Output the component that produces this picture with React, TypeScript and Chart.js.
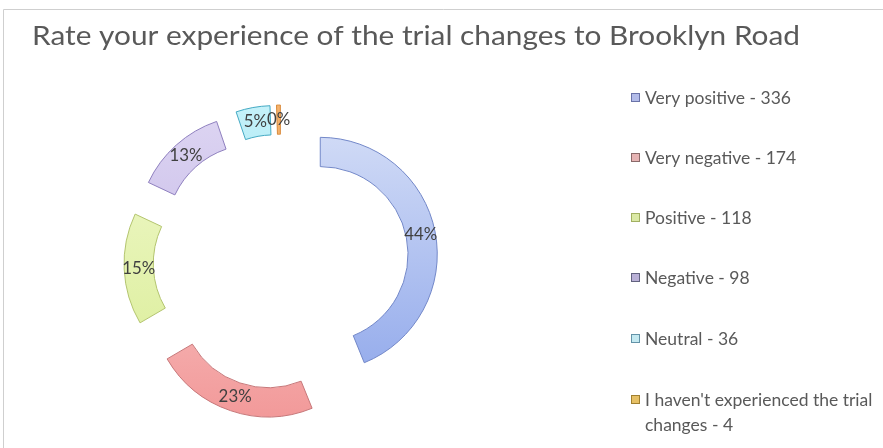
import { useEffect, useRef } from "react";
import { Chart, registerables } from "chart.js";

Chart.register(...registerables);

// ---- data ----
const chartTitle = "Rate your experience of the trial changes to Brooklyn Road";
const categories = [
  "Very positive",
  "Very negative",
  "Positive",
  "Negative",
  "Neutral",
  "I haven't experienced the trial changes",
];
const responses = [336, 174, 118, 98, 36, 4];
const percentLabels = ["44%", "23%", "15%", "13%", "5%", "0%"];

// ---- styles ----
const lightColors = ["#d6dff7", "#fcdede", "#f1f9cf", "#ddd5f2", "#c4f1f9", "#f5b36e"];
const darkColors = ["#8ba4ea", "#f29a9a", "#d8ec92", "#b9aae2", "#6fd4ea", "#ec9443"];
const borderColors = ["#7388c9", "#c7787a", "#b4c56f", "#8f80bf", "#45aac4", "#d98a3a"];
const legendFill = ["#b3bce9", "#e6b4b4", "#dbe9a6", "#b9b0d6", "#c4e9f1", "#e6c065"];
const legendBorder = ["#6a73a8", "#8a6a6a", "#a2b062", "#62627f", "#6393a8", "#a08030"];

const W = 883;
const H = 448;
const FONT = "Lato, 'Open Sans', sans-serif";
const EXPLODE = 40;
const CENTER_X = 281;
const CENTER_Y = 262;
const OUTER_R = 117;

function widthAt(text: string, size: number): number {
  const c = document.createElement("canvas").getContext("2d") as CanvasRenderingContext2D;
  c.font = `${size}px ${FONT}`;
  return c.measureText(text).width;
}

function drawScaled(
  ctx: CanvasRenderingContext2D,
  text: string,
  x: number,
  y: number,
  sx: number,
  align: "left" | "center"
) {
  ctx.save();
  ctx.translate(x, y);
  ctx.scale(sx, 1);
  ctx.textAlign = align;
  ctx.fillText(text, 0, 0);
  ctx.restore();
}

export default function App() {
  const ref = useRef<HTMLCanvasElement | null>(null);

  useEffect(() => {
    if (!ref.current) return;
    const titleSize = 26.5;
    const titleSx = 768 / widthAt(chartTitle, titleSize);
    const legendSize = 16.5;
    const legendSx = 146 / widthAt(`${categories[0]} - ${responses[0]}`, legendSize);
    const labelSize = 17;
    const labelSx = 33 / widthAt(percentLabels[0], labelSize);

    const frame = {
      id: "frame",
      beforeDraw(chart: any) {
        const ctx = chart.ctx as CanvasRenderingContext2D;
        ctx.save();
        ctx.fillStyle = "#ffffff";
        ctx.fillRect(0, 0, W, H);
        ctx.strokeStyle = "#cfcfcf";
        ctx.lineWidth = 1;
        ctx.beginPath();
        ctx.moveTo(3.5, H);
        ctx.lineTo(3.5, 9.5);
        ctx.lineTo(W, 9.5);
        ctx.stroke();
        ctx.fillStyle = "#595959";
        ctx.font = `${titleSize}px ${FONT}`;
        ctx.textBaseline = "alphabetic";
        drawScaled(ctx, chartTitle, 32, 44.5, titleSx, "left");
        ctx.restore();
      },
    };

    const explode = {
      id: "explode",
      beforeDatasetsDraw(chart: any) {
        const meta = chart.getDatasetMeta(0);
        const ca = chart.chartArea;
        const ctrl = meta.controller as any;
        const cx = (ca.left + ca.right) / 2 + (ctrl.offsetX || 0);
        const cy = (ca.top + ca.bottom) / 2 + (ctrl.offsetY || 0);
        meta.data.forEach((arc: any) => {
          const mid = (arc.startAngle + arc.endAngle) / 2;
          arc.x = cx + EXPLODE * Math.cos(mid);
          arc.y = cy + EXPLODE * Math.sin(mid);
        });
      },
    };

    const labelsAndLegend = {
      id: "labelsAndLegend",
      afterDatasetsDraw(chart: any) {
        const ctx = chart.ctx as CanvasRenderingContext2D;
        const meta = chart.getDatasetMeta(0);
        ctx.save();
        ctx.font = `${labelSize}px ${FONT}`;
        ctx.fillStyle = "#404040";
        ctx.textBaseline = "middle";
        meta.data.forEach((arc: any, i: number) => {
          const p = arc.getCenterPoint();
          drawScaled(ctx, percentLabels[i], p.x, p.y, labelSx, "center");
        });

        // legend
        const baselines = [104, 164, 224, 284, 345, 406];
        ctx.font = `${legendSize}px ${FONT}`;
        ctx.textBaseline = "alphabetic";
        const maxW = 242;
        categories.forEach((cat, i) => {
          const text = `${cat} - ${responses[i]}`;
          const words = text.split(" ");
          const lines: string[] = [];
          let cur = "";
          words.forEach((w) => {
            const t = cur ? cur + " " + w : w;
            if (ctx.measureText(t).width * legendSx > maxW && cur) {
              lines.push(cur);
              cur = w;
            } else cur = t;
          });
          if (cur) lines.push(cur);
          const y = baselines[i];
          ctx.fillStyle = legendFill[i];
          ctx.fillRect(631.5, y - 10.5, 8, 8);
          ctx.strokeStyle = legendBorder[i];
          ctx.lineWidth = 1;
          ctx.strokeRect(631.5, y - 10.5, 8, 8);
          ctx.fillStyle = "#595959";
          lines.forEach((ln, k) => drawScaled(ctx, ln, 645, y + k * 25, legendSx, "left"));
        });
        ctx.restore();
      },
    };

    const makeGradient = (context: any) => {
      const i = context.dataIndex ?? 0;
      const chart = context.chart;
      if (!chart.chartArea) return lightColors[i];
      const g = chart.ctx.createLinearGradient(0, 110, 0, 415);
      g.addColorStop(0, lightColors[i]);
      g.addColorStop(1, darkColors[i]);
      return g;
    };

    const chart = new Chart(ref.current, {
      type: "doughnut",
      data: {
        labels: categories,
        datasets: [
          {
            data: responses,
            backgroundColor: makeGradient,
            borderColor: borderColors,
            borderWidth: 1,
            hoverOffset: 0,
          },
        ],
      },
      options: {
        responsive: false,
        animation: false,
        cutout: "75%",
        radius: OUTER_R,
        events: [],
        layout: {
          padding: {
            left: CENTER_X - 150,
            right: W - CENTER_X - 150,
            top: CENTER_Y - 150,
            bottom: H - CENTER_Y - 150,
          },
        },
        plugins: {
          legend: { display: false },
          title: { display: false },
          tooltip: { enabled: false },
        },
      },
      plugins: [frame, explode, labelsAndLegend],
    });
    return () => chart.destroy();
  }, []);

  return (
    <div style={{ position: "fixed", left: 0, top: 0, width: W, height: H, background: "#fff" }}>
      <canvas ref={ref} width={W} height={H} style={{ width: W, height: H, display: "block" }} />
    </div>
  );
}
